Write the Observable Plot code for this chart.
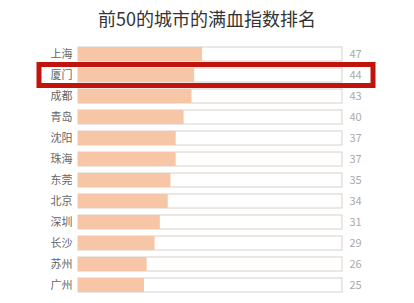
<!DOCTYPE html>
<html><head><meta charset="utf-8">
<script src="https://cdn.jsdelivr.net/npm/d3@7"></script>
<script src="https://cdn.jsdelivr.net/npm/@observablehq/plot@0.6"></script>
<style>
body{margin:0;background:#fff;font-family:"Noto Sans CJK SC","Noto Sans",sans-serif;}
#title{height:35px;line-height:36px;text-align:center;font-size:18px;color:#333;}
</style></head><body>
<div id="title">前50的城市的满血指数排名</div>
<div id="chart"></div>
<script>
const cities = ["上海","厦门","成都","青岛","沈阳","珠海","东莞","北京","深圳","长沙","苏州","广州"];
const values = [47,44,43,40,37,37,35,34,31,29,26,25];
const highlight = ["厦门"];
const data = cities.map((c,i)=>({city:c, value:values[i]}));
const chart = Plot.plot({
  width:414, height:268,
  marginLeft:78, marginRight:72, marginTop:4, marginBottom:3,
  style:{fontFamily:'"Noto Sans CJK SC","Noto Sans",sans-serif', fontSize:"11px", color:"#666", background:"transparent"},
  x:{domain:[0,100], axis:null},
  y:{domain:cities, padding:0.32, label:null, tickSize:0, tickPadding:6},
  marks:[
    Plot.barX(data,{y:"city", x1:0, x2:100, fill:"#fff", stroke:"#d8d0ca", strokeWidth:1}),
    Plot.barX(data,{y:"city", x1:0, x2:"value", fill:"#f7c6a6"}),
    Plot.text(data,{y:"city", x:100, text:d=>String(d.value), dx:7, textAnchor:"start", fill:"#aaa", fontSize:11}),
    Plot.barX(data.filter(d=>highlight.includes(d.city)),{y:"city", x1:0, x2:100, fill:"none", stroke:"#c0140c", strokeWidth:5, insetLeft:-39, insetRight:-31, insetTop:-3.5, insetBottom:-3.5})
  ]
});
document.getElementById("chart").append(chart);
</script>
</body></html>
